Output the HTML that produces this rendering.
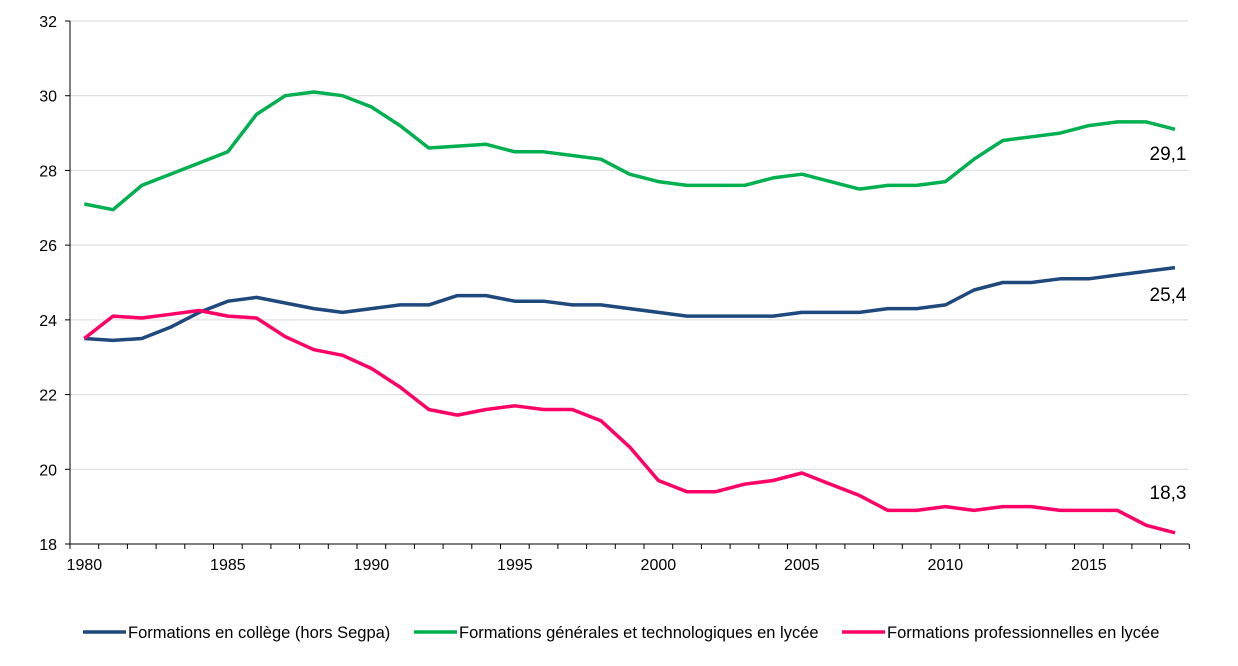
<!DOCTYPE html>
<html><head><meta charset="utf-8"><style>
body{margin:0;background:#fff;width:1238px;height:661px;overflow:hidden}
svg{font-family:"Liberation Sans",Arial,sans-serif}
</style></head><body>
<svg id="s" width="1238" height="661" xmlns="http://www.w3.org/2000/svg"></svg>
<script>
const s=document.getElementById('s');
const G=[27.1,26.95,27.6,27.9,28.2,28.5,29.5,30.0,30.1,30.0,29.7,29.2,28.6,28.65,28.7,28.5,28.5,28.4,28.3,27.9,27.7,27.6,27.6,27.6,27.8,27.9,27.7,27.5,27.6,27.6,27.7,28.3,28.8,28.9,29.0,29.2,29.3,29.3,29.1];
const B=[23.5,23.45,23.5,23.8,24.2,24.5,24.6,24.45,24.3,24.2,24.3,24.4,24.4,24.65,24.65,24.5,24.5,24.4,24.4,24.3,24.2,24.1,24.1,24.1,24.1,24.2,24.2,24.2,24.3,24.3,24.4,24.8,25.0,25.0,25.1,25.1,25.2,25.3,25.4];
const P=[23.5,24.1,24.05,24.15,24.25,24.1,24.05,23.55,23.2,23.05,22.7,22.2,21.6,21.45,21.6,21.7,21.6,21.6,21.3,20.6,19.7,19.4,19.4,19.6,19.7,19.9,19.6,19.3,18.9,18.9,19.0,18.9,19.0,19.0,18.9,18.9,18.9,18.5,18.3];
const X0=70,W=28.7,Y=v=>544-(v-18)*523/14;
let h='';
for(let v=20;v<=32;v+=2){h+=`<line x1="70" x2="1188" y1="${Y(v)}" y2="${Y(v)}" stroke="#d9d9d9"/>`;}
for(let v=18;v<=32;v+=2){h+=`<line x1="65" x2="70" y1="${Y(v)}" y2="${Y(v)}" stroke="#000"/><text x="57" y="${Y(v)+6}" font-size="16" text-anchor="end">${v}</text>`;}
h+=`<line x1="70" x2="70" y1="21" y2="544" stroke="#000"/><line x1="70" x2="1189" y1="544" y2="544" stroke="#000"/>`;
for(let i=0;i<=39;i++){const x=X0+W*i;h+=`<line x1="${x}" x2="${x}" y1="544" y2="549" stroke="#000"/>`;}
for(let i=0;i<39;i+=5){h+=`<text x="${X0+W*(i+0.5)}" y="570" font-size="16" text-anchor="middle">${1980+i}</text>`;}
const line=(d,c)=>`<polyline fill="none" stroke="${c}" stroke-width="3.5" stroke-linejoin="round" points="${d.map((v,i)=>(X0+W*(i+0.5)).toFixed(1)+','+Y(v).toFixed(1)).join(' ')}"/>`;
h+=line(G,'#00b050')+line(B,'#1f497d')+line(P,'#ff0066');
h+=`<text x="1168" y="160" font-size="19" text-anchor="middle">29,1</text><text x="1168" y="301" font-size="19" text-anchor="middle">25,4</text><text x="1168" y="499" font-size="19" text-anchor="middle">18,3</text>`;
const leg=[[83,'#1f497d','Formations en collège (hors Segpa)'],[414,'#00b050','Formations générales et technologiques en lycée'],[842,'#ff0066','Formations professionnelles en lycée']];
for(const [x,c,t] of leg){h+=`<line x1="${x}" x2="${x+43}" y1="632" y2="632" stroke="${c}" stroke-width="3.5"/><text x="${x+45}" y="638" font-size="16.5">${t}</text>`;}
s.innerHTML=h;
</script>
</body></html>
